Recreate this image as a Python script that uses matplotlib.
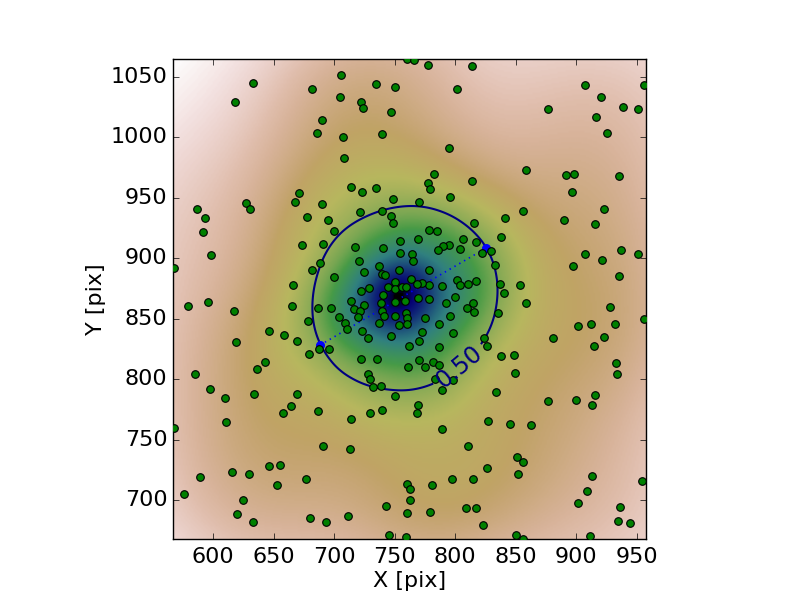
import numpy as np
import matplotlib
matplotlib.use("Agg")
import matplotlib.pyplot as plt
from matplotlib.colors import PowerNorm

plt.style.use("classic")

# star positions
star_x = [633.1, 618.2, 705.8, 681.9, 734.8, 750.5, 705.0, 722.4, 724.0, 747.2, 690.1, 686.0, 707.5, 739.7, 708.3,
          714.1, 723.2, 734.8, 671.1, 667.8, 690.1, 748.8, 721.5, 739.7, 747.2, 627.3, 630.6, 586.8, 593.4, 677.7,
          695.1, 760.4, 766.2, 777.8, 814.1, 801.7, 907.5, 920.8, 956.0, 939.0, 951.4, 877.0, 916.6, 925.7, 795.1,
          858.8, 891.8, 898.4, 935.6, 782.7, 777.8, 779.4, 814.1, 796.0, 770.3, 896.8, 923.3, 856.3, 841.4, 890.2,
          591.8, 598.4, 567.8, 700.0, 673.6, 691.0, 688.5, 681.9, 700.0, 666.2, 579.4, 595.9, 617.4, 665.3, 686.8,
          697.6, 678.6, 646.3, 658.7, 669.5, 619.0, 679.4, 687.6, 695.9, 643.3, 636.4, 585.1,
          748.8, 717.4, 740.6, 754.6, 754.6, 764.5, 765.4, 720.7, 737.3, 724.9, 739.7, 742.2, 753.8, 750.5, 763.7,
          744.7, 729.0, 750.5, 756.3, 759.6, 722.4,
          815.8, 778.6, 785.2, 769.5, 806.7, 817.4, 795.1, 790.2, 786.0, 804.2, 822.4, 829.8, 833.1, 778.6, 801.7,
          817.4, 810.8, 804.2, 789.3, 778.6, 772.8, 768.7,
          740.6, 714.1, 724.9, 738.9, 750.5, 758.7, 716.6, 721.5, 739.7, 759.6, 704.2, 719.9, 741.4, 750.5, 760.4,
          709.1, 737.3, 753.8, 760.4, 710.8, 723.2, 728.2, 747.2, 762.1, 722.4, 735.6, 761.2, 728.2, 729.8, 732.3, 738.9,
          769.5, 778.6, 792.6, 800.1, 810.0, 815.0, 815.8, 775.3, 796.0, 786.9, 772.8, 798.4, 770.3, 786.9, 824.1,
          826.5, 770.3, 775.3, 781.9, 786.9, 783.5, 798.4,
          915.8, 838.1, 937.3, 951.3, 907.5, 921.6, 897.6, 935.6, 837.3, 853.8, 840.6, 858.8, 928.2, 835.6, 912.5,
          901.7, 932.3, 956.3, 881.1, 923.3, 915.0, 838.1, 848.8, 933.2, 934.0, 849.7,
          597.5, 610.0, 633.9, 669.5, 664.5, 657.9, 686.8, 750.5, 739.7, 729.8, 714.1, 610.8, 567.8, 691.0, 713.3,
          655.4, 646.3, 615.7, 629.8, 589.3, 652.9, 676.9, 576.0, 624.8, 760.4, 762.9, 762.9, 743.0, 760.4, 619.9,
          633.1, 680.2, 693.4, 711.6, 745.5, 759.6,
          789.3, 834.0, 877.0, 900.1, 915.8, 913.3, 769.5, 768.7, 789.3, 827.4, 845.5, 862.9, 810.8, 851.3, 856.3,
          826.5, 852.2, 913.3, 797.6, 815.0, 781.1, 954.4, 909.2, 901.8, 936.5, 809.2, 817.4, 779.4, 823.2, 934.8,
          944.7, 850.5, 856.3, 911.7]
star_y = [1045.0, 1029.3, 1051.6, 1040.0, 1044.2, 1041.7, 1033.4, 1029.3, 1024.3, 1021.0, 1014.4, 1003.6, 1000.3, 1002.8, 983.0,
          959.0, 954.8, 958.1, 954.0, 946.6, 944.9, 949.0, 938.3, 939.1, 935.0, 945.7, 940.8, 940.8, 933.3, 934.1,
          931.7, 1064.9, 1063.8, 1059.9, 1059.1, 1040.0, 1043.4, 1033.4, 1043.4, 1025.2, 1023.5, 1023.5, 1016.9, 1003.6, 991.2,
          973.0, 968.9, 969.7, 968.1, 969.7, 962.3, 957.3, 964.0, 950.7, 946.6, 954.8, 940.8, 939.1, 933.3, 932.0,
          921.7, 902.7, 891.9, 922.5, 911.0, 911.8, 896.1, 890.3, 884.5, 877.9, 860.5, 863.8, 856.4, 860.5, 858.8,
          858.8, 848.1, 839.8, 836.5, 831.5, 830.7, 820.8, 824.9, 824.9, 814.2, 808.4, 804.2,
          929.2, 909.3, 908.5, 914.3, 904.4, 903.5, 897.8, 897.8, 893.6, 888.7, 887.0, 886.2, 890.3, 880.4, 882.9,
          876.2, 875.4, 874.6, 876.2, 876.2, 872.9,
          929.2, 923.4, 922.6, 916.0, 916.0, 913.5, 911.0, 910.2, 906.9, 907.7, 904.4, 906.0, 894.4, 890.3, 882.0,
          881.2, 878.7, 877.9, 877.1, 877.9, 879.5, 878.7,
          869.5, 864.6, 861.3, 862.9, 863.8, 864.6, 858.0, 856.3, 856.3, 854.7, 851.4, 851.4, 852.2, 852.2, 850.5,
          846.4, 846.4, 844.7, 845.6, 841.4, 839.8, 834.0, 835.6, 827.4, 816.6, 816.6, 810.0, 804.2, 800.1, 793.5, 794.3,
          867.1, 866.2, 862.9, 867.9, 858.8, 862.9, 855.5, 850.5, 852.2, 845.6, 838.9, 838.1, 831.5, 826.5, 834.0,
          827.4, 815.8, 810.0, 814.1, 811.6, 800.0, 799.2,
          928.3, 917.6, 906.8, 903.5, 903.5, 898.6, 893.6, 885.3, 878.7, 877.9, 871.2, 863.0, 859.7, 854.7, 845.6,
          844.0, 845.6, 849.7, 834.0, 834.8, 827.4, 819.1, 820.0, 813.3, 804.2, 805.0,
          791.8, 784.4, 787.7, 787.7, 777.8, 772.0, 773.6, 786.0, 774.5, 772.0, 767.0, 764.5, 759.6, 744.7, 742.2,
          729.0, 728.1, 723.2, 721.5, 719.0, 712.4, 717.4, 705.0, 700.0, 713.2, 709.1, 700.0, 695.0, 689.2, 688.4,
          681.8, 685.1, 681.8, 686.8, 671.0, 669.4,
          791.0, 789.4, 781.9, 782.7, 786.9, 778.6, 778.6, 772.0, 758.7, 765.4, 762.9, 762.0, 744.7, 735.6, 731.4,
          726.5, 721.5, 719.9, 717.4, 717.4, 712.4, 715.7, 707.4, 697.5, 694.2, 693.4, 693.4, 690.1, 679.3, 682.6,
          681.0, 671.0, 667.7, 670.2]

# ends of the major axis
axis_x = [688.5, 825.7]
axis_y = [828.2, 908.5]

# the isophote, read as angle (deg) and radius (pix) around its centre
iso_center = (758.6, 866.6)
iso_phi = [-174.0, -162.7, -151.2, -133.7, -123.2, -111.0, -90.0, -77.2, -66.8, -48.0, -26.3, -9.2, 7.3,
           22.6, 33.8, 48.6, 55.8, 73.6, 90.0, 104.9, 120.2, 140.8, 154.8, 172.5]
iso_r = [76.8, 78.6, 79.9, 79.8, 80.6, 76.7, 76.1, 74.8, 73.4, 71.5, 73.8, 75.2, 76.9,
         79.2, 79.6, 79.2, 78.5, 78.0, 76.5, 74.9, 75.1, 76.5, 74.7, 75.1]

contour_level = 0.50
xlim = (566.9, 957.4)
ylim = (667.7, 1064.9)
pilot_sigma = 30.0
kde_sigma = 38.0

star_x = np.array(star_x)
star_y = np.array(star_y)


def kernel_sum(X, Y, sigmas):
    out = np.zeros_like(X)
    for x0, y0, s in zip(star_x, star_y, sigmas):
        out += np.exp(-((X - x0) ** 2 + (Y - y0) ** 2) / (2 * s ** 2)) / s ** 2
    return out


fig = plt.figure(figsize=(8, 6), dpi=100, facecolor="white")
ax = fig.add_axes([173.0 / 800, 1 - 539.0 / 600, 472.5 / 800, 480.0 / 600])

# adaptive kernel density of the stars
gx = np.linspace(xlim[0], xlim[1], 300)
gy = np.linspace(ylim[0], ylim[1], 300)
X, Y = np.meshgrid(gx, gy)
pilot = kernel_sum(star_x[None, :], star_y[None, :], np.full(star_x.size, pilot_sigma))[0]
local = pilot / np.exp(np.log(pilot).mean())
dens = kernel_sum(X, Y, kde_sigma * local ** -0.5)
ax.imshow(dens, origin="lower", extent=[xlim[0], xlim[1], ylim[0], ylim[1]],
          cmap="gist_earth_r", aspect="auto", interpolation="bilinear",
          norm=PowerNorm(gamma=0.72, vmin=dens.min() * 1.1, vmax=dens.max() * 1.0))

# half light isophote, radius table smoothed so the line has no kinks
phi_fine = np.arange(-180, 180)
r_fine = np.interp(phi_fine, iso_phi, iso_r, period=360)
window = np.ones(31) / 31
r_fine = np.convolve(np.r_[r_fine[-15:], r_fine, r_fine[:15]], window, mode="valid")
phi = np.degrees(np.arctan2(Y - iso_center[1], X - iso_center[0]))
rho = np.hypot(X - iso_center[0], Y - iso_center[1])
r_phi = np.interp(phi, phi_fine, r_fine, period=360)
cs = ax.contour(X, Y, contour_level * rho / r_phi, [contour_level], colors=[(0, 0, 0.5)], linewidths=1.5)
labels = ax.clabel(cs, fmt="%.2f", fontsize=17, manual=[(803, 811)], inline=True)
for t in labels:
    t.set_zorder(5)

ax.plot(axis_x, axis_y, ":", color="b", linewidth=1.2, zorder=3)
ax.scatter(axis_x, axis_y, s=30, c="b", edgecolors="b", zorder=3)
ax.scatter(star_x, star_y, s=30, c="g", edgecolors="k", zorder=4, linewidths=0.8)

ax.set_xlim(xlim)
ax.set_ylim(ylim)
ax.set_xticks(np.arange(600, 951, 50))
ax.set_yticks(np.arange(700, 1051, 50))
ax.tick_params(labelsize=16)
ax.tick_params(axis="x", pad=5.5)
ax.set_xlabel("X [pix]", fontsize=16, labelpad=3)
ax.set_ylabel("Y [pix]", fontsize=16, labelpad=3)

plt.savefig("out.png", dpi=100, facecolor="white")
